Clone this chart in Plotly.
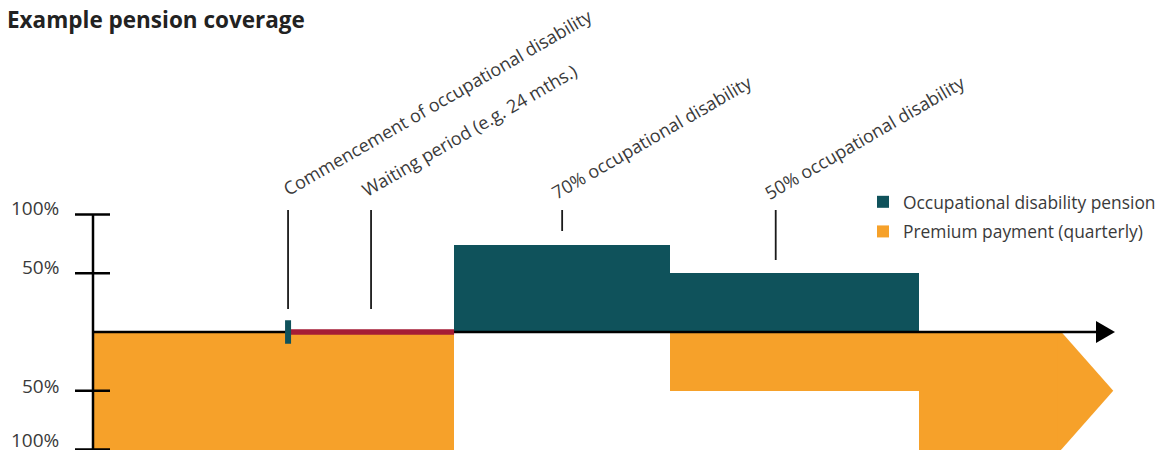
import plotly.graph_objects as go

# ---------------- data (months on the timeline, % of coverage) ----------------
onset_month = 28.2          # commencement of occupational disability
waiting_months = 24         # waiting period
pension_start = [52.2, 83.45]    # disability pension phases
pension_end = [83.45, 119.4]
pension_level = [74, 50]    # height (% occupational disability)
premium_start = [0, 83.45, 119.4]
premium_end = [52.2, 119.4, 140]
premium_level = [100, 50, 100]   # % of premium still paid
premium_arrow_tip = 147.5
tick_values = [100, 50, -50, -100]
tick_labels = ["100%", "50%", "50%", "100%"]
label_texts = ["Commencement of occupational disability",
               "Waiting period (e.g. 24 mths.)",
               "70% occupational disability",
               "50% occupational disability"]
label_months = [onset_month, onset_month + waiting_months / 2,
                (pension_start[0] + pension_end[0]) / 2, 98.7]

# ---------------- styling / layout constants ----------------
W, H = 1173, 450
PX_PER_MONTH = 6.917
PX_PER_PCT = 1.175
ORIGIN_X, ORIGIN_Y = 93, 332
PLOT_W = 1115
X_RANGE = [-ORIGIN_X / PX_PER_MONTH, (PLOT_W - ORIGIN_X) / PX_PER_MONTH]
Y_RANGE = [(ORIGIN_Y - H) / PX_PER_PCT, ORIGIN_Y / PX_PER_PCT]
TEAL = "#0f525b"
ORANGE = "#f6a12a"
RED = "#a51c36"
TXT = "#3a3a3a"
FONT = "Open Sans"
FS_LABEL = 18
FS_LEGEND = 17.4
FS_TICK = 19

fig = go.Figure()

# pension bars
fig.add_trace(go.Bar(
    x=[(s + e) / 2 for s, e in zip(pension_start, pension_end)],
    y=pension_level, width=[e - s for s, e in zip(pension_start, pension_end)],
    base=0, marker=dict(color=TEAL, line=dict(width=0)),
    name="Occupational disability pension", legendgroup="a"))

# premium bars (drawn downwards)
fig.add_trace(go.Bar(
    x=[(s + e) / 2 for s, e in zip(premium_start, premium_end)],
    y=[-v for v in premium_level], width=[e - s for s, e in zip(premium_start, premium_end)],
    base=0, marker=dict(color=ORANGE, line=dict(width=0)),
    name="Premium payment (quarterly)", legendgroup="b"))

# arrow tip of premium band
last_end, last_lvl = premium_end[-1], premium_level[-1]
fig.add_trace(go.Scatter(
    x=[last_end - 0.5, last_end, premium_arrow_tip, last_end, last_end - 0.5],
    y=[0, 0, -last_lvl / 2, -last_lvl, -last_lvl],
    fill="toself", fillcolor=ORANGE, mode="lines", line=dict(width=0),
    showlegend=False, hoverinfo="skip"))

# axes
ax_end = X_RANGE[1] - 19 / PX_PER_MONTH
tick_half = 17 / PX_PER_MONTH
ax_x = [0, ax_end, None, 0, 0]
ax_y = [0, 0, None, tick_values[0], Y_RANGE[0]]
for tv in tick_values:
    ax_x += [None, -tick_half - 1 / PX_PER_MONTH, tick_half]
    ax_y += [None, tv, tv]
fig.add_trace(go.Scatter(x=ax_x, y=ax_y, mode="lines",
                         line=dict(color="black", width=2.5),
                         showlegend=False, hoverinfo="skip"))
head_h = 11 / PX_PER_PCT
fig.add_trace(go.Scatter(x=[ax_end, X_RANGE[1], ax_end, ax_end], y=[head_h, 0, -head_h, head_h],
                         fill="toself", fillcolor="black", mode="lines", line=dict(width=0, color="black"),
                         showlegend=False, hoverinfo="skip"))

# waiting period line
fig.add_trace(go.Scatter(x=[onset_month, onset_month + waiting_months], y=[0, 0], mode="lines",
                         line=dict(color=RED, width=5.5), showlegend=False, hoverinfo="skip"))
# onset tick
fig.add_trace(go.Scatter(x=[onset_month, onset_month], y=[10, -10], mode="lines",
                         line=dict(color=TEAL, width=6), showlegend=False, hoverinfo="skip"))

# leader lines
top_y = (ORIGIN_Y - 210) / PX_PER_PCT
bottoms = [(ORIGIN_Y - 309) / PX_PER_PCT, (ORIGIN_Y - 309) / PX_PER_PCT,
           (ORIGIN_Y - 231) / PX_PER_PCT, (ORIGIN_Y - 260) / PX_PER_PCT]
lx, ly = [], []
for m, b in zip(label_months, bottoms):
    lx += [m, m, None]
    ly += [top_y, b, None]
fig.add_trace(go.Scatter(x=lx, y=ly, mode="lines", line=dict(color="#1a1a1a", width=1.8),
                         showlegend=False, hoverinfo="skip"))

annotations = []
# rotated labels
label_y = (ORIGIN_Y - 203) / PX_PER_PCT
xshifts = [-12, -16, -18, -18]
yshifts = [0, -1, -4, -4]
for t, m, xs, ys in zip(label_texts, label_months, xshifts, yshifts):
    annotations.append(dict(x=m, y=label_y, xref="x", yref="y", text=t, textangle=-30,
                            showarrow=False, xanchor="left", yanchor="bottom", xshift=xs, yshift=ys,
                            font=dict(family=FONT, size=FS_LABEL, color=TXT)))
# y tick labels
tick_shifts = [7, 6, 5, 10]
for tv, tl, ts in zip(tick_values, tick_labels, tick_shifts):
    annotations.append(dict(x=(61 - ORIGIN_X) / PX_PER_MONTH, y=tv, xref="x", yref="y", text=tl,
                            showarrow=False, xanchor="right", yanchor="middle", yshift=ts,
                            font=dict(family=FONT, size=FS_TICK, color=TXT)))
# title
annotations.append(dict(x=5 / PLOT_W, y=1, xref="paper", yref="paper", text="<b>Example pension coverage</b>",
                        showarrow=False, xanchor="left", yanchor="top", yshift=-2,
                        font=dict(family=FONT, size=22.5, color="#222222")))

fig.update_layout(
    width=W, height=H, margin=dict(l=0, r=W - PLOT_W, t=0, b=0),
    paper_bgcolor="white", plot_bgcolor="white",
    barmode="overlay", bargap=0,
    xaxis=dict(range=X_RANGE, visible=False, fixedrange=True),
    yaxis=dict(range=Y_RANGE, visible=False, fixedrange=True),
    showlegend=True,
    legend=dict(x=863 / PLOT_W, y=1 - 184 / H, xanchor="left", yanchor="top",
                font=dict(family=FONT, size=FS_LEGEND, color=TXT), tracegroupgap=4,
                bgcolor="rgba(0,0,0,0)", traceorder="grouped"),
    annotations=annotations,
)

fig.write_html("out.html")
